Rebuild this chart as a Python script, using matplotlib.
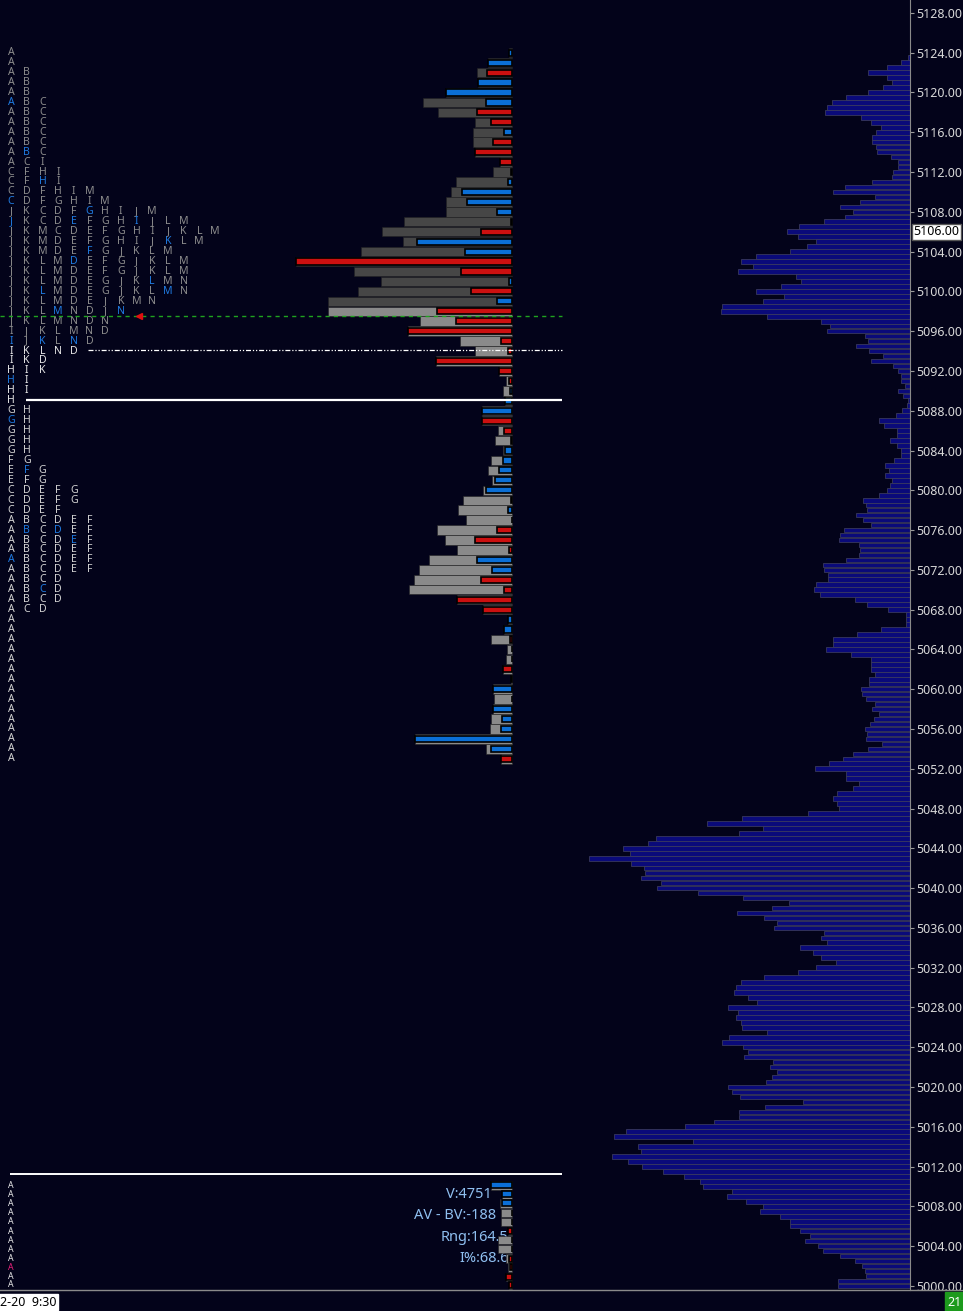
import numpy as np
import matplotlib.pyplot as plt
from matplotlib.transforms import blended_transform_factory

plt.rcParams['font.family'] = ['Noto Sans', 'DejaVu Sans']

''' Data '''
# composite volume profile (right side), 0.5 pt bins from 5123.5 down to 5000
comp_top = 5123.5
comp_vol = [
    2, 9, 22.7, 41.7, 22.7, 18.3, 27.3, 41.7, 64, 77.7, 83, 84.7, 49, 39, 29, 34,
    37.7, 38, 34, 33, 19, 12, 12, 16.7, 18, 38, 65, 76.7, 34.7, 50, 69.7, 57,
    64.7, 86.3, 110.7, 122.7, 112, 94, 102.7, 119.7, 154, 168.7, 157, 171.7, 114.3, 109.3, 129.3, 154,
    125.7, 146.7, 187.7, 189, 142.7, 88.7, 79.7, 82.7, 44.7, 41.7, 54.3, 41.3, 26.7, 38.7, 16.7, 12,
    8.7, 8.7, 5.3, 12, 6.7, 2, 2.7, 7.7, 14.3,
    30.7, 25.7, 13.3, 13.3, 19.7, 13.3, 9, 9.3, 15.7, 24.7, 20.7, 24.7, 17.7, 19.7, 22.7, 31,
    46.7, 43.7, 42.7, 54.3, 46.7, 38.7, 66.3, 69.7, 71.3, 51.3, 49.7, 51.3, 64, 87.3, 86.3, 81.7,
    82.3, 94, 96, 90.3, 55.3, 42.7, 21.7, 4, 4, 4, 29.3, 52.7, 77.3, 76.7, 84, 59,
    39, 39.3, 39.3, 35.3, 41, 41, 49, 48.3, 44, 35.3, 38, 31, 36, 40.3, 45, 43.3,
    44, 28.3, 41.7, 57.3, 66.7, 81.3, 94.7, 64, 64, 50.7, 56.7,
    73.3, 77.3, 73.3, 70.7, 101.7, 167.7, 203.3, 147, 171.3, 254.3, 261.7, 287.3, 280, 321, 279, 265.7,
    264.7, 269.3, 248.7, 253.3, 211.7, 166.7, 121.3, 138.3, 173.3, 146.3, 133.3, 136, 85.7, 89.3, 82.7, 109.7,
    96.7, 89, 74, 94, 111.7, 146, 169, 174, 176, 161.7, 152.7, 182.3, 171.7, 174, 169, 168.3,
    143.3, 180.7, 188.3, 166.7, 161.7, 166.3, 136.7, 140, 133.3, 138.3, 144, 181.7, 178.3, 169.7, 107.3, 145,
    171, 171, 196, 225.3, 284, 296, 217.3, 272.3, 269, 298.3, 282.3, 268, 246.7, 226.3, 210.3, 206.7,
    178.3, 183.3, 164.3,
    147, 150, 130, 120, 120, 110, 100, 105, 92, 87, 70, 55, 48, 45, 44, 72, 72,
]

# today's TPO letters, 1 pt per row from 5124 down (lowercase = blue letter)
upper_top = 5124
upper_rows = [
    "A", "A", "AB", "AB", "AB", "aBC", "ABC", "ABC", "ABC", "ABC", "AbC", "ACI",
    "CFHI", "CFhI", "CDFHIM", "cDFGHIM", "JKCDFgHIJM", "jKCDeFGHiJLM",
    "JKMCDEFGHIJKLM", "JKMDEFGHIJkLM", "JKMDEfGJKLM", "JKLMdEFGJKLM", "JKLMDEFGJKLM",
    "JKLMDEGJKlMN", "JKlMDEGJKLmN", "JKLMDEJKMN", "JKLmNDJn", "JKLMNDN", "IJKLMND",
    "iJkLnD", "IKLND", "IKD", "HIK", "hI", "HI", "H",
]
upper_vol = [2.4, 24, 34.4, 33.4, 65.7, 88.4, 73.4, 36.7, 39, 39, 36.7, 11.7,
             18.4, 56, 61, 66, 66, 107.7, 129.7, 108.4, 151, 216, 157.7, 131,
             154, 183.4, 183.4, 91.7, 103.4, 51.7, 36.7, 75.7, 12.7, 6, 9, 6.7]
upper_delta = [2.4, 24, -24.4, 33.4, 65.7, 25.7, -35, -21, 7.7, -19, -36.7, -11.7,
               1, 4, 50, 45, 15, -1, -30.7, 95, 46.7, -216, -50.7, 2.4,
               -40.7, 14.4, -75, -56, -103.4, -11, -4, -75.7, -12.7, -2.4, 1.7, 6.7]

# previous session, 1 pt per row from 5088 down
lower_top = 5088
lower_rows = [
    "GH", "gH", "GH", "GH", "GH", "FG", "EfG", "EFG", "CDEFG", "CDEFG", "CDEF",
    "ABCDEF", "AbCdEF", "ABCDeF", "ABCDEF", "aBCDEF", "ABCDEF", "ABCD", "ABcD",
    "ABCD", "ACD",
] + ["A"] * 15
lower_vol = [30, 30, 13.4, 16.7, 9, 21, 24, 19.4, 28.4, 49, 53.4, 46,
             74.4, 66.7, 55, 82.7, 92.4, 97.4, 102.4, 54.4, 28.4, 3.4, 7.7, 20.7,
             4.4, 5.7, 8.4, 1, 19, 17.7, 18.4, 21, 21.7, 96.7, 26, 10.7]
lower_delta = [30, -30, -7.7, 0.5, 6.7, 8.4, 12.4, 16.7, 25.7, -0.5, 3.4, 0,
               -14.4, -36.7, -2.4, 34.4, 19.4, -31, -7.4, -54.4, -28.4, 3.4, 7.7, -1.7,
               0, 0, -8.4, -1, 19, 0, 18.4, 10, 10.7, 96.7, 21, -10.7]

# opening minutes of the new session (bottom block)
open_prices = [5010.1, 5009.2, 5008.3, 5007.35, 5006.45, 5005.5, 5004.6, 5003.7,
               5002.75, 5001.85, 5000.9, 5000.1]
open_vol = [21, 10, 12, 11, 11, 4, 14, 14, 6, 4, 6, 3]
open_delta = [21, 10, 10, 0, 0, -4, 0, 0, -3, -2, -6, -3]
open_stats = ["V:4751", "AV - BV:-188", "Rng:164.5", "I%:68.6"]
open_stats_x = [446, 414, 441, 459]

last_price = 5097.5
vwap_level = 5094.1
session_split = 5089.05
open_split = 5011.25
current_label = 5106
price_ticks = np.arange(5000, 5129, 4)

''' Style '''
bg = '#03031a'
blue = '#0b6fd6'
red = '#cc1010'
px = 1 / 9.945   # price per pixel

fig = plt.figure(figsize=(9.63, 13.11), dpi=100, facecolor=bg)
ax = fig.add_axes([0, 21 / 1311, 910 / 963, 1290 / 1311])
ax.set_facecolor(bg)
ax.set_xlim(0, 910)
ax.set_ylim(5124 - (1290 - 52.7) * px, 5124 + 52.7 * px)

# price axis on the right
ax.yaxis.tick_right()
ax.set_yticks(price_ticks)
ax.set_yticklabels(["%.2f" % p for p in price_ticks])
ax.tick_params(axis='y', colors='#9a9a9a', labelcolor='#d8d8d8', labelsize=9,
               length=3, pad=1.5)
ax.set_xticks([])
for s in ['top', 'left', 'bottom']:
    ax.spines[s].set_visible(False)
ax.spines['right'].set_color('#8a8a8a')

''' Composite profile '''
comp_prices = comp_top - 0.5 * np.arange(len(comp_vol))
ax.barh(comp_prices, -np.array(comp_vol), left=910, height=0.46,
        color='#0a0a7a', edgecolor='#3c3c60', linewidth=0.55, zorder=2)

''' Session profiles (volume + delta) '''
anchor = 511.5


def draw_profile(prices, vol, delta, vol_colors, hv=0.95, hd=0.62):
    ax.barh(prices, -np.array(vol), left=anchor, height=hv, color=vol_colors,
            edgecolor='#222222', linewidth=0.4, zorder=3)
    delta = np.array(delta)
    cols = [blue if d > 0 else red for d in delta]
    ax.barh(prices, -np.abs(delta), left=anchor, height=hd, color=cols,
            edgecolor='black', linewidth=1.2, zorder=4)


up_prices = upper_top - np.arange(len(upper_rows))
lo_prices = lower_top - np.arange(len(lower_rows))
up_cols = ['#464646' if p >= 5099 else '#8a8a8a' for p in up_prices]
draw_profile(up_prices, upper_vol, upper_delta, up_cols)
draw_profile(lo_prices, lower_vol, lower_delta, '#8a8a8a')
draw_profile(open_prices, open_vol, open_delta, '#8a8a8a', hv=0.85, hd=0.6)

''' TPO letters '''
col_x0, col_dx = 11, 15.69


def draw_letters(prices, rows, base, size=7.6):
    for p, row in zip(prices, rows):
        for c, ch in enumerate(row):
            color = '#1f7ae0' if ch.islower() else base(p)
            ax.text(col_x0 + c * col_dx, p, ch.upper(), color=color, fontsize=size,
                    fontweight='bold', ha='center', va='center', zorder=5)


draw_letters(up_prices, upper_rows, lambda p: '#e6e6e6' if p <= 5094 else '#8c8c8c')
draw_letters(lo_prices, lower_rows, lambda p: '#d2d2d2')
for i, p in enumerate(open_prices):
    ax.text(col_x0, p, "A", color='#e8207a' if i == 9 else '#e8e8e8', fontsize=6.3,
            fontweight='bold', ha='center', va='center', zorder=5)

for i, t in enumerate(open_stats):
    ax.text(open_stats_x[i], open_prices[1] - i * 2.15, t, color='#8fbff0', fontsize=10.5,
            ha='left', va='center', zorder=2)

''' Reference lines '''
ax.hlines(last_price, 0, 562, color='#1fa31f', linewidth=1, linestyles=(0, (3, 3)), zorder=6)
ax.plot([139], [last_price], marker='<', color='#e01010', markersize=5, zorder=7)
ax.hlines(vwap_level, 88, 562, color='white', linewidth=0.9,
          linestyles=(0, (4, 1.5, 1, 1.5, 1, 1.5)), zorder=6)
ax.hlines(session_split, 26, 562, color='white', linewidth=1.6, zorder=6)
ax.hlines(open_split, 10, 562, color='white', linewidth=1.4, zorder=6)

# current price box on the axis
tr = blended_transform_factory(ax.transAxes, ax.transData)
ax.text(1.004, current_label, "%.2f" % current_label, transform=tr, fontsize=9,
        color='black', ha='left', va='center', zorder=8,
        bbox=dict(boxstyle='square,pad=0.12', facecolor='white', edgecolor='#555555'))

# time strip at the bottom
fig.add_artist(plt.Line2D([0, 1], [21 / 1311, 21 / 1311], color='#8a8a8a', linewidth=1))
fig.text(0.0, 9 / 1311, "2-20  9:30", fontsize=9, color='black', ha='left', va='center',
         bbox=dict(boxstyle='square,pad=0.15', facecolor='white', edgecolor='white'))
fig.text(0.999, 9 / 1311, "21", fontsize=9, color='white', ha='right', va='center',
         bbox=dict(boxstyle='square,pad=0.25', facecolor='#1d9a1d', edgecolor='#1d9a1d'))

fig.savefig("out.png", dpi=100, facecolor=bg)
